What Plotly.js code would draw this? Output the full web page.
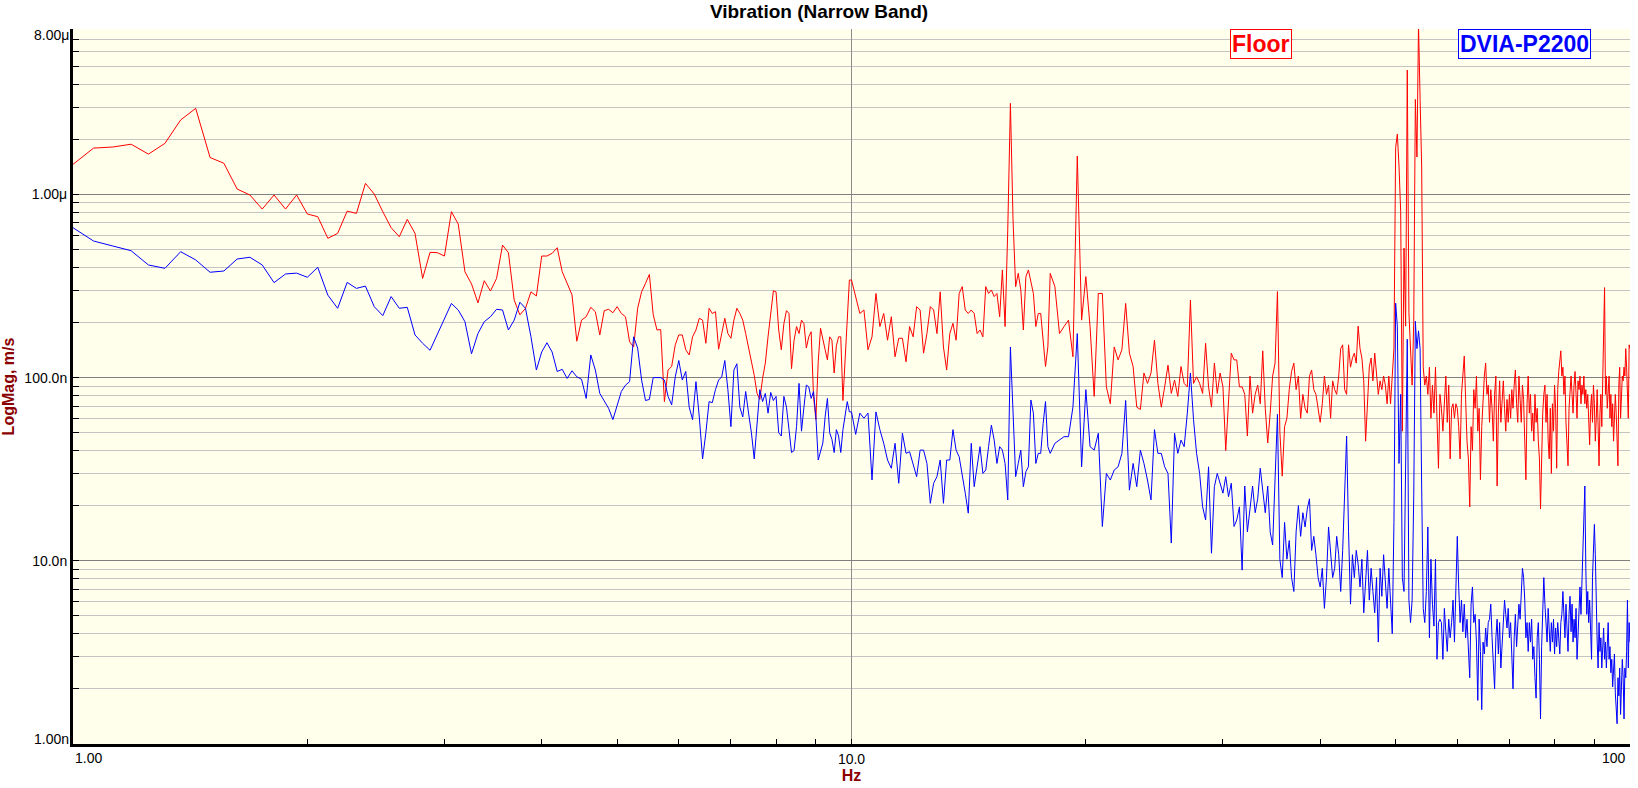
<!DOCTYPE html>
<html>
<head>
<meta charset="utf-8">
<script src="https://cdn.plot.ly/plotly-3.0.1.min.js"></script>
<style>
  html, body { margin: 0; padding: 0; background: #ffffff; }
  #plot { width: 1638px; height: 788px; }
</style>
</head>
<body>
<div id="plot"></div>
<script>
// frequency bins (Hz): three resolutions
var lowStart = 1, lowStep = 0.0625, lowCount = 144;     // 1 .. 9.9375
var midStart = 10, midStep = 0.125, midCount = 64;      // 10 .. 17.875
var highStart = 18, highStep = 0.25, highCount = 329;   // 18 .. 100

// Floor, nm/s
var floorLow = [
  1460,1790,1815,1880,1660,1900,2550,2950,1590,1480,1070,993,832,993,832,993,
  782,756,576,613,811,788,1149,1005,805,658,588,731,613,348,483,481,
  461,805,689,378,325,256,338,297,348,529,481,265,220,239,294,279,
  461,461,477,512,379,327,283,158,206,215,242,229,171,232,236,226,
  244,224,215,157,147,239,294,327,366,221,182,183,74,110,115,151,
  171,171,142,133,167,182,211,206,154,239,224,229,143,174,211,174,
  164,206,239,224,206,174,145,120,103,82,76,99,120,167,224,298,
  294,182,142,197,232,224,112,160,190,174,206,197,145,167,178,79,
  59,122,186,160,142,125,167,160,106,149,167,167,75,125,215,341
];
var floorMid = [
  341,277,224,234,142,167,288,190,224,160,215,130,164,164,122,190,
  167,244,234,136,174,244,234,174,294,147,110,174,198,160,288,314,
  234,224,234,224,174,182,167,314,288,301,277,288,215,387,190,640,
  3141,725,314,371,301,182,356,387,327,288,190,224,224,154,115,147
];
var floorHigh = [
  371,314,174,190, 206,130,1621,206, 356,190,79,288, 288,89,72,147,
  125,142,254,136, 115,69,67,106, 93,106,160,93, 69,89,117,82,
  97,79,115,93, 89,265,93,101, 93,82,154,89, 69,120,82,106,
  89,40,75,136, 125,125,89,89,
  81,48,102,64, 81,91,72,140, 68,44,64,102, 120,295,51,29,
  54,60,86,108, 120,86,102,60, 81,68,64,102, 110,86,81,68,
  57,72,102,81, 91,60,96,86, 81,102,144,151, 86,81,151,114,
  128,136,120,191, 144,128,96,45, 68,114,128,96, 136,108,81,96,
  86,102,91,72, 102,72,108,144, 1800,2135,1429,804, 51,510,191,4775,
  226,144,91,203, 3300,1600,8500,3300, 1429,114,91,102, 81,114,60,91,
  64,114,64,32, 81,
  68,51,81,102, 57,91,36,68, 72,60,72,68, 54,36,81,102,
  131,76,45,36, 19.7,54,40,86, 68,102,51,68, 27.7,54,76,102,
  120,81,91,57, 86,68,45,81, 102,25.6,64,96, 57,81,96,68,
  51,76,57,81, 60,86,68,91, 110,72,57,102, 81,57,91,76,
  45,27.7,72,102, 64,81,51,64, 45,81,57,68, 45,36,19.2,38,
  64,81,91,57, 81,45,36,68, 30,72,51,91, 68,32,86,108,
  128,140,102,114, 81,102,57,40, 33,68,91,102, 81,64,91,108,
  81,60,96,86, 102,72,91,81, 102,72,86,68, 81,57,43,68,
  81,57,91,72, 45,60,86,54, 33,64,81,54, 91,144,310,81,
  102,68,86,102, 60,81,54,72, 45,57,81,64, 38,33,91,114,
  60,81,102,96, 114,102,144,114, 91,60,151,144
];

// DVIA-P2200, nm/s
var dviaLow = [
  658,557,523,493,412,395,487,439,376,382,444,454,412,330,368,372,
  353,400,282,239,331,307,316,244,218,277,239,242,171,154,141,171,
  208,254,234,202,135,174,202,215,236,234,182,206,258,239,167,110,
  138,155,138,108,111,99,109,101,98,77,133,110,82,74,68,59,
  71,84,91,95,167,145,97,75,76,100,100,100,97,79,71,101,
  124,97,108,69,59,95,61,36,50,74,73,86,97,101,124,86,
  54,110,119,69,61,84,64,50,36,59,86,74,82,64,83,75,
  79,50,48,79,69,52,39,40,54,93,51,69,91,89,77,84,
  61,35.5,40,44,61,77,50,46,39,52,48,39,52,61,74,65
];
var dviaMid = [
  65,49,64,60,64,27.6,65,52,43.8,35.5,32,43.8,26.5,49.7,38.6,39.4,
  34,28.8,40.2,40.2,34,20.6,26.5,28.8,35.5,20.6,35.5,35.5,52,40.2,37,30,
  23.4,18.2,43.8,25.4,32,42,30,31.3,42,55,45.6,34,42,40.2,34,21.5,
  147,64,28.8,34,40.2,25.4,30.7,32.6,75.5,64,34,38.6,38.6,56,74,42
];
var dviaHigh = [
  38.6,43.8,45.6,47.6, 47.6,69,174,32.6, 86,42,40.2,49.7, 15.4,30,27.6,31.3,
  32.6,38.6,75,24.3, 34,25.4,40.2,34, 27.6,21.5,52,38.6, 38.6,32.6,30,12.5,
  49.7,38.6,45.6,42, 64,106,59,38.6, 30,19.7,16.7,32.6, 11,25.4,30,26.5,
  23.4,28.8,22.4,26.5, 15.4,16.7,19.7,8.9,
  25.6,14.4,20,25.6, 18.3,21.8,32,24.3, 18.3,25.6,14.4,12.2, 32,63,10.2,8.1,
  16.2,10.2,12.9,8.1, 6.8,14.4,20,13.6, 18.3,15.3,19.2,21.8, 11.4,13.6,10.8,8.1,
  7.2,9.1,5.5,8.1, 15.3,11.4,8.1,9.1, 13.6,10.8,6.8,11.4, 22.9,48,14.4,5.8,
  10.8,8.1,11.4,9.6, 7.2,10.2,5.2,8.1, 11.4,6.1,9.1,6.8, 5.2,8.1,3.6,9.1,
  6.4,10.8,8.1,5.5, 9.1,6.4,4.0,16.2, 255,191,34,81, 8.1,6.8,25.6,162,
  6.1,4.6,6.1,22.9, 203,144,180,144, 25.6,5.5,4.6,6.8, 15.3,3.8,10.2,5.8,
  4.4,10.2,2.9,4.6, 4.8,
  4.6,2.9,5.5,4.1, 3.2,4.8,3.8,4.6, 6.1,3.6,6.4,13.6, 7.2,4.6,6.1,4.1,
  5.8,3.8,4.8,3.4, 2.3,5.8,7.2,4.6, 5.1,3.6,1.73,4.8, 3.2,1.54,3.6,3.1,
  4.3,3.4,4.6,4.8, 5.8,3.8,2.7,2.0, 3.8,4.8,3.1,4.6, 2.6,3.6,4.6,6.1,
  5.1,4.3,5.5,3.8, 4.6,2.9,2.0,3.8, 5.1,3.4,4.3,5.8, 4.8,6.8,9.1,8.1,
  6.1,3.8,4.6,3.2, 4.6,3.6,4.8,2.9, 3.4,2.3,1.78,3.8, 4.6,2.9,1.37,3.4,
  5.1,8.1,5.8,4.6, 3.6,5.5,4.1,3.2, 4.6,3.6,4.8,3.1, 4.3,3.4,4.6,3.8,
  3.1,4.6,5.1,6.8, 4.8,3.8,5.8,4.6, 3.2,5.1,6.4,4.1, 5.8,3.6,4.8,3.8,
  5.5,2.9,4.3,5.8, 7.2,5.1,8.1,14.4, 20,25.6,9.1,5.1, 6.8,4.6,6.1,3.4,
  2.9,8.1,11.4,15.8, 10.8,4.6,3.6,2.6, 4.6,3.2,3.8,2.6, 3.4,4.3,2.9,3.6,
  2.6,3.2,4.6,2.9, 3.4,2.45,2.9,2.05, 2.6,3.1,1.9,1.63, 1.29,2.3,1.83,2.6,
  1.45,2.05,2.9,2.3, 1.37,2.6,2.3,3.2, 6.1,2.6,4.6,3.6
];

// axis labels; the end labels sit inside the ends like the original
var yTickVals = [1e-8, 1e-7, 1e-6];
var yTickText = ['10.0n', '100.0n', '1.00\u03bc'];
var yEndText = ['1.00n', '8.00\u03bc'];
var xTickVals = [10];
var xTickText = ['10.0'];
var xEndText = ['1.00', '100'];


function bins(start, step, n){
  var out = [];
  for (var i = 0; i < n; i++) out.push(start + i * step);
  return out;
}

function toMetres(list){
  return list.map(function(v){ return v * 1e-9; });
}

function create_plot(){
  var freq = bins(lowStart, lowStep, lowCount)
    .concat(bins(midStart, midStep, midCount))
    .concat(bins(highStart, highStep, highCount));

  var floor = {
    x: freq,
    y: toMetres(floorLow.concat(floorMid, floorHigh)),
    mode: 'lines',
    type: 'scatter',
    name: 'Floor',
    line: { color: '#ff0000', width: 1 }
  };

  var dvia = {
    x: freq,
    y: toMetres(dviaLow.concat(dviaMid, dviaHigh)),
    mode: 'lines',
    type: 'scatter',
    name: 'DVIA-P2200',
    line: { color: '#0000ff', width: 1 }
  };

  // minor grid values 2..9 per decade
  var yMinor = [];
  [1e-9, 1e-8, 1e-7, 1e-6].forEach(function(d){
    for (var m = 2; m <= 9; m++) if (m * d < 8e-6) yMinor.push(m * d);
  });
  var xMinor = [];
  [1, 10].forEach(function(d){
    for (var m = 2; m <= 9; m++) xMinor.push(m * d);
  });

  var labelFont = { size: 14, color: '#000000' };

  var layout = {
    width: 1638,
    height: 788,
    margin: { l: 73, r: 8, t: 29, b: 44 },
    paper_bgcolor: '#ffffff',
    plot_bgcolor: '#ffffeb',
    showlegend: false,
    font: { family: 'Liberation Sans, Arial, sans-serif', size: 14, color: '#000000' },
    title: {
      text: '<b>Vibration (Narrow Band)</b>',
      font: { size: 19, color: '#000000' },
      x: 0.5, xref: 'container',
      y: 0.986, yanchor: 'middle'
    },
    xaxis: {
      type: 'log',
      range: [0, 2],
      tickmode: 'array',
      tickvals: xTickVals,
      ticktext: xTickText,
      ticks: 'inside',
      ticklen: 5,
      tickcolor: '#000000',
      showgrid: true,
      gridcolor: '#8c8c8c',
      gridwidth: 1,
      zeroline: false,
      showline: true,
      linecolor: '#000000',
      linewidth: 3,
      minor: { tickvals: xMinor, ticks: 'inside', ticklen: 5, tickcolor: '#000000', showgrid: false },
      title: {
        text: '<b>Hz</b>',
        font: { size: 16, color: '#8b0000' },
        standoff: 3
      }
    },
    yaxis: {
      type: 'log',
      range: [-9, Math.log10(8e-6)],
      tickmode: 'array',
      tickvals: yTickVals,
      ticktext: yTickText,
      ticks: 'inside',
      ticklen: 6,
      tickcolor: '#000000',
      showgrid: true,
      gridcolor: '#808080',
      gridwidth: 1,
      zeroline: false,
      showline: true,
      linecolor: '#000000',
      linewidth: 3,
      minor: { tickvals: yMinor, ticks: 'inside', ticklen: 6, tickcolor: '#000000', showgrid: true, gridcolor: '#c4c4c4', gridwidth: 1 },
      title: {
        text: '<b>LogMag, m/s</b>',
        font: { size: 16, color: '#8b0000' },
        standoff: 8
      }
    },
    annotations: [
      {
        text: '<b>Floor</b>', xref: 'paper', yref: 'paper',
        x: 0.763, y: 1, xanchor: 'center', yanchor: 'top',
        showarrow: false, font: { size: 23, color: '#ff0000' },
        bgcolor: '#ffffff', bordercolor: '#ff0000', borderwidth: 1, borderpad: 1
      },
      {
        text: '<b>DVIA-P2200</b>', xref: 'paper', yref: 'paper',
        x: 0.9322, y: 1, xanchor: 'center', yanchor: 'top',
        showarrow: false, font: { size: 23, color: '#0000ff' },
        bgcolor: '#ffffff', bordercolor: '#0000ff', borderwidth: 1, borderpad: 1
      },
      {
        text: xEndText[0], xref: 'paper', yref: 'paper', x: 0, y: 0,
        xanchor: 'left', yanchor: 'top', yshift: -4, showarrow: false, font: labelFont
      },
      {
        text: xEndText[1], xref: 'paper', yref: 'paper', x: 1, y: 0,
        xanchor: 'right', yanchor: 'top', yshift: -4, xshift: -2, showarrow: false, font: labelFont
      },
      {
        text: yEndText[0], xref: 'paper', yref: 'paper', x: 0, y: 0,
        xanchor: 'right', yanchor: 'middle', xshift: -2, yshift: 5, showarrow: false, font: labelFont
      },
      {
        text: yEndText[1], xref: 'paper', yref: 'paper', x: 0, y: 1,
        xanchor: 'right', yanchor: 'middle', xshift: -2, yshift: -6, showarrow: false, font: labelFont
      }
    ]
  };

  Plotly.newPlot('plot', [floor, dvia], layout, { displayModeBar: false, staticPlot: true });
}

create_plot();
</script>
</body>
</html>
